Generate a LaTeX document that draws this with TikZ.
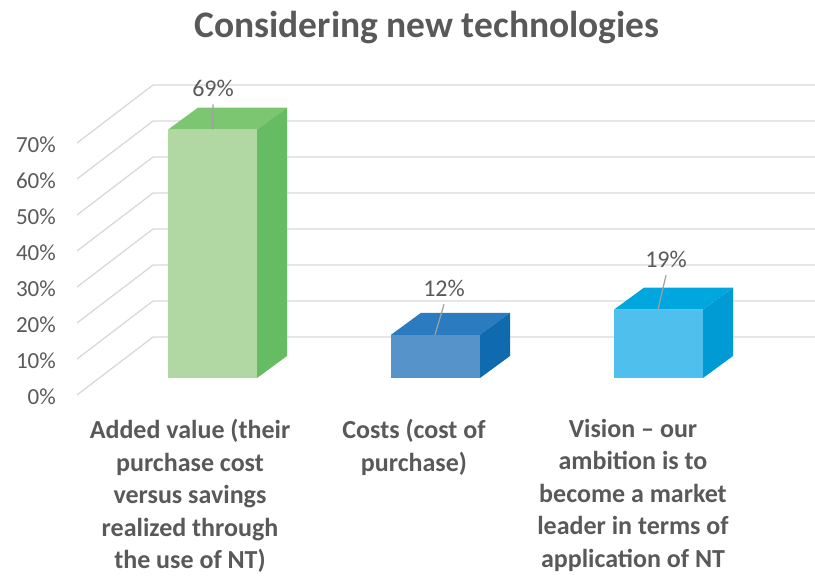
\documentclass[tikz,border=0pt]{standalone}
\usepackage{fontspec}
\setmainfont{Carlito}
\usepackage{tikz}
\usetikzlibrary{positioning}

\definecolor{txtgray}{HTML}{595959}
\definecolor{gridgray}{HTML}{D9D9D9}
\definecolor{leadgray}{HTML}{A0A0A0}
\definecolor{greenfront}{HTML}{B1D8A3}
\definecolor{greentop}{HTML}{7CC571}
\definecolor{greenside}{HTML}{65BC62}
\definecolor{bluefront}{HTML}{5693CB}
\definecolor{bluetop}{HTML}{2A7BBF}
\definecolor{blueside}{HTML}{0F6AAF}
\definecolor{cyanfront}{HTML}{4FC0ED}
\definecolor{cyantop}{HTML}{00A7DF}
\definecolor{cyanside}{HTML}{009BD5}

\begin{document}
\begin{tikzpicture}[x=1pt,y=-1pt,
    grid/.style={draw=gridgray,line width=1.3pt},
    tick/.style={anchor=east,inner sep=0pt,text=txtgray,font=\fontsize{23}{28}\selectfont},
    val/.style={inner sep=1pt,outer sep=7pt,text=txtgray,font=\fontsize{24}{28}\selectfont},
    cat/.style={anchor=north,inner sep=0pt,align=center,text=txtgray,font=\fontsize{26}{32.5}\selectfont\bfseries},
    leader/.style={draw=leadgray,line width=1.2pt}]
    \useasboundingbox (0,0) rectangle (815,576);
				\node(title) [anchor=base,text=txtgray,font=\fontsize{37.5}{44}\selectfont\bfseries] at (427,37) {Considering new technologies};
				% grid
			 	\draw[grid] (77,395) -- (153,337) -- (815,337);
			 	\draw[grid] (77,359) -- (153,301) -- (815,301);
			 	\draw[grid] (77,323) -- (153,265) -- (815,265);
			 	\draw[grid] (77,287) -- (153,229) -- (815,229);
			 	\draw[grid] (77,251) -- (153,193) -- (815,193);
			 	\draw[grid] (77,215) -- (153,157) -- (815,157);
			 	\draw[grid] (77,179) -- (153,121) -- (815,121);
			 	\draw[grid] (77,143) -- (153,85) -- (815,85);
				\node(p0)  [tick] at (56,397) {0\%};
				\node(p10) [tick] at (56,361) {10\%};
				\node(p20) [tick] at (56,325) {20\%};
				\node(p30) [tick] at (56,289) {30\%};
				\node(p40) [tick] at (56,253) {40\%};
				\node(p50) [tick] at (56,217) {50\%};
				\node(p60) [tick] at (56,181) {60\%};
				\node(p70) [tick] at (56,145) {70\%};
				% bars
			 	\fill[greenfront] (168,378) rectangle (257,129.6);
			 	\fill[greentop] (168,129.6) -- ++(30,-22) -- ++(89,0) -- (257,129.6) -- cycle;
			 	\fill[greenside] (257,129.6) -- ++(30,-22) -- (287,356) -- (257,378) -- cycle;
			 	\fill[bluefront] (391,378) rectangle (480,334.8);
			 	\fill[bluetop] (391,334.8) -- ++(30,-22) -- ++(89,0) -- (480,334.8) -- cycle;
			 	\fill[blueside] (480,334.8) -- ++(30,-22) -- (510,356) -- (480,378) -- cycle;
			 	\fill[cyanfront] (614,378) rectangle (703,309.6);
			 	\fill[cyantop] (614,309.6) -- ++(30,-22) -- ++(89,0) -- (703,309.6) -- cycle;
			 	\fill[cyanside] (703,309.6) -- ++(30,-22) -- (733,356) -- (703,378) -- cycle;
				\coordinate(added) at (212.5,129.6);
				\coordinate(costs) at (435,334.8);
				\coordinate(vision) at (658,309.6);
				% values
				\node(v69) [val] at (213,88) {69\%};
				\node(v12) [val] at (444,288) {12\%};
				\node(v19) [val] at (666,259) {19\%};
			 	\draw[leader] (v69.south) -- (added);
			 	\draw[leader] (v12.south) -- (costs);
			 	\draw[leader] (v19.south) -- (vision);
				% categories
				\node(c1) [cat] at (190,419) {Added value (their\\purchase cost\\versus savings\\realized through\\the use of NT)};
				\node(c2) [cat] at (414,419) {Costs (cost of\\purchase)};
				\node(c3) [cat] at (633,419) {Vision -- our\\ambition is to\\become a market\\leader in terms of\\application of NT};
			\end{tikzpicture}
\end{document}
